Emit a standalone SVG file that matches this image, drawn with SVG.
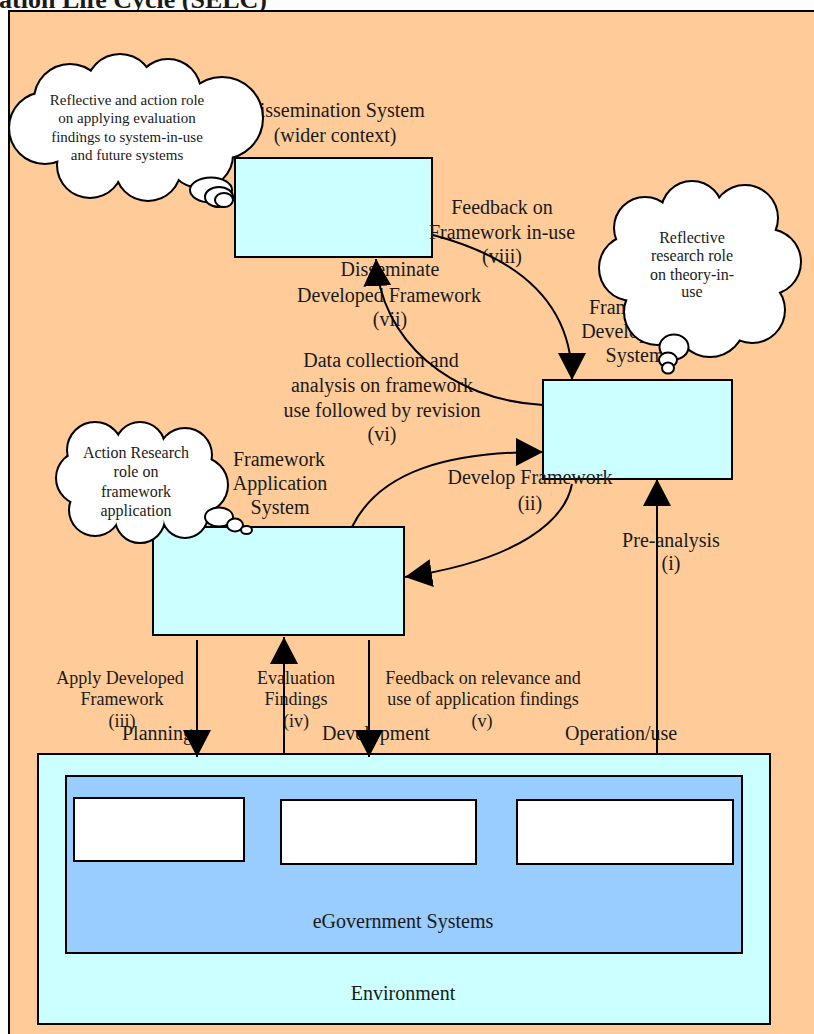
<svg xmlns="http://www.w3.org/2000/svg" xmlns:xlink="http://www.w3.org/1999/xlink" width="814" height="1034" viewBox="0 0 814 1034">
<style>
text{font-family:"Liberation Serif","Times New Roman",serif;fill:#1a1a1a}
.t20{font-size:20px;text-anchor:middle}
.t18{font-size:18px;text-anchor:middle}
.ph{font-size:20px}
.c15{font-size:15px;text-anchor:middle}
.c16{font-size:16px;text-anchor:middle}
.box{fill:#CCFFFF;stroke:#000;stroke-width:2}
.wbox{fill:#FFFFFF;stroke:#000;stroke-width:2}
.line{fill:none;stroke:#000;stroke-width:2}
.cs{fill:#fff;stroke:#000;stroke-width:4}
.cf{fill:#fff;stroke:none}
.bub{fill:#fff;stroke:#000;stroke-width:2}
</style>
<defs>
<marker id="ah" markerUnits="userSpaceOnUse" markerWidth="28" markerHeight="28" refX="27" refY="14" orient="auto">
<path d="M0,0 L27,14 L0,28 z" fill="#000"/>
</marker>
<g id="cloud1">
<circle cx="70" cy="100" r="35"/><circle cx="120" cy="88" r="33"/><circle cx="168" cy="92" r="32"/>
<circle cx="222" cy="118" r="40"/><circle cx="45" cy="128" r="35"/><circle cx="90" cy="165" r="32"/>
<circle cx="148" cy="168" r="32"/><circle cx="200" cy="155" r="32"/><circle cx="135" cy="128" r="55"/>
</g>
<g id="cloud2">
<circle cx="645" cy="228" r="30"/><circle cx="692" cy="212" r="30"/><circle cx="745" cy="218" r="32"/>
<circle cx="768" cy="262" r="32"/><circle cx="752" cy="310" r="32"/><circle cx="710" cy="322" r="34"/>
<circle cx="657" cy="312" r="32"/><circle cx="632" cy="268" r="32"/><circle cx="700" cy="268" r="60"/>
</g>
<g id="cloud3">
<circle cx="95" cy="450" r="27"/><circle cx="140" cy="447" r="24"/><circle cx="185" cy="455" r="26"/>
<circle cx="200" cy="485" r="27"/><circle cx="185" cy="515" r="22"/><circle cx="140" cy="518" r="24"/>
<circle cx="95" cy="510" r="25"/><circle cx="83" cy="478" r="26"/><circle cx="140" cy="480" r="45"/>
</g>
</defs>

<!-- title and background frame -->
<text x="267" y="8" style="font-size:26px;font-weight:bold;text-anchor:end">ation Life Cycle (SELC)</text>
<rect x="9" y="11" width="820" height="1040" fill="#FFCC99" stroke="#000" stroke-width="2"/>

<!-- Environment / eGovernment systems -->
<g id="environment">
<rect x="38" y="754" width="732" height="270" class="box"/>
<text x="403" y="1000" class="t20">Environment</text>
</g>
<g id="egov-systems">
<rect x="66" y="776" width="676" height="177" fill="#99CCFF" stroke="#000" stroke-width="2"/>
<text x="403" y="928" class="t20">eGovernment Systems</text>
</g>
<g id="egov-box-1"><rect x="74" y="798" width="170" height="63" class="wbox"/></g>
<g id="egov-box-2"><rect x="281" y="800" width="195" height="64" class="wbox"/></g>
<g id="egov-box-3"><rect x="517" y="800" width="216" height="64" class="wbox"/></g>

<!-- nodes -->
<g id="dissemination-system">
<rect x="235" y="158" width="197" height="99" class="box"/>
<text x="335" y="117" class="t20">Dissemination System</text>
<text x="335" y="142" class="t20">(wider context)</text>
</g>
<g id="framework-development-system">
<rect x="543" y="380" width="189" height="99" class="box"/>
<text x="635" y="314" class="t20">Framework</text>
<text x="635" y="338" class="t20">Development</text>
<text x="635" y="362" class="t20">System</text>
</g>
<g id="framework-application-system">
<rect x="153" y="527" width="251" height="108" class="box"/>
<text x="279" y="466" class="t20">Framework</text>
<text x="280" y="490" class="t20">Application</text>
<text x="280" y="514" class="t20">System</text>
</g>

<!-- edge labels -->
<g id="edge-labels">
<text x="502" y="214" class="t20">Feedback on</text>
<text x="502" y="239" class="t20">Framework in-use</text>
<text x="502" y="263" class="t20">(viii)</text>
<text x="390" y="276" class="t20">Disseminate</text>
<text x="389" y="302" class="t20">Developed Framework</text>
<text x="390" y="326" class="t20">(vii)</text>
<text x="381" y="367" class="t20">Data collection and</text>
<text x="382" y="392" class="t20">analysis on framework</text>
<text x="382" y="417" class="t20">use followed by revision</text>
<text x="382" y="441" class="t20">(vi)</text>
<text x="530" y="484" class="t20">Develop Framework</text>
<text x="530" y="510" class="t20">(ii)</text>
<text x="671" y="547" class="t20">Pre-analysis</text>
<text x="671" y="570" class="t20">(i)</text>
<text x="120" y="684" class="t18">Apply Developed</text>
<text x="122" y="705" class="t18">Framework</text>
<text x="122" y="727" class="t18">(iii)</text>
<text x="296" y="684" class="t18">Evaluation</text>
<text x="296" y="705" class="t18">Findings</text>
<text x="296" y="727" class="t18">(iv)</text>
<text x="483" y="684" class="t18">Feedback on relevance and</text>
<text x="483" y="705" class="t18">use of application findings</text>
<text x="482" y="727" class="t18">(v)</text>
<text x="122" y="740" class="ph">Planning</text>
<text x="322" y="740" class="ph">Development</text>
<text x="565" y="740" class="ph">Operation/use</text>
</g>

<!-- connectors -->
<g id="connectors" class="line">
<path d="M433,235 Q572,272 572,380" marker-end="url(#ah)"/>
<path d="M543,405 C450,400 380,340 376,259" marker-end="url(#ah)"/>
<path d="M352,527 C380,470 450,452 543,452" marker-end="url(#ah)"/>
<path d="M572,484 C565,520 520,560 405,577" marker-end="url(#ah)"/>
<path d="M657,755 L657,479" marker-end="url(#ah)"/>
<path d="M197,640 L197,757" marker-end="url(#ah)"/>
<path d="M284,755 L284,637" marker-end="url(#ah)"/>
<path d="M369,640 L369,757" marker-end="url(#ah)"/>
</g>

<!-- thought clouds -->
<g id="cloud-reflective-action">
<use xlink:href="#cloud1" class="cs"/>
<use xlink:href="#cloud1" class="cf"/>
<ellipse cx="211" cy="190" rx="21" ry="12.5" class="bub"/>
<ellipse cx="219" cy="197" rx="14" ry="10" class="bub"/>
<ellipse cx="224" cy="200" rx="9" ry="7" class="bub"/>
<text x="127" y="105" class="c15">Reflective and action role</text>
<text x="127" y="123" class="c15">on applying evaluation</text>
<text x="127" y="142" class="c15">findings to system-in-use</text>
<text x="127" y="160" class="c15">and future systems</text>
</g>
<g id="cloud-reflective-research">
<use xlink:href="#cloud2" class="cs"/>
<use xlink:href="#cloud2" class="cf"/>
<ellipse cx="674" cy="347" rx="14.5" ry="12.5" class="bub"/>
<ellipse cx="668" cy="360" rx="9" ry="7.5" class="bub"/>
<ellipse cx="668" cy="368" rx="6" ry="5.5" class="bub"/>
<text x="692" y="243" class="c16">Reflective</text>
<text x="692" y="261" class="c16">research role</text>
<text x="692" y="280" class="c16">on theory-in-</text>
<text x="692" y="297" class="c16">use</text>
</g>
<g id="cloud-action-research">
<use xlink:href="#cloud3" class="cs"/>
<use xlink:href="#cloud3" class="cf"/>
<ellipse cx="219" cy="517" rx="14" ry="9.5" class="bub"/>
<ellipse cx="235" cy="525" rx="8" ry="6.5" class="bub"/>
<ellipse cx="246.5" cy="530" rx="5.5" ry="4" class="bub"/>
<text x="136" y="458" class="c16">Action Research</text>
<text x="136" y="477" class="c16">role on</text>
<text x="136" y="497" class="c16">framework</text>
<text x="136" y="516" class="c16">application</text>
</g>
</svg>
